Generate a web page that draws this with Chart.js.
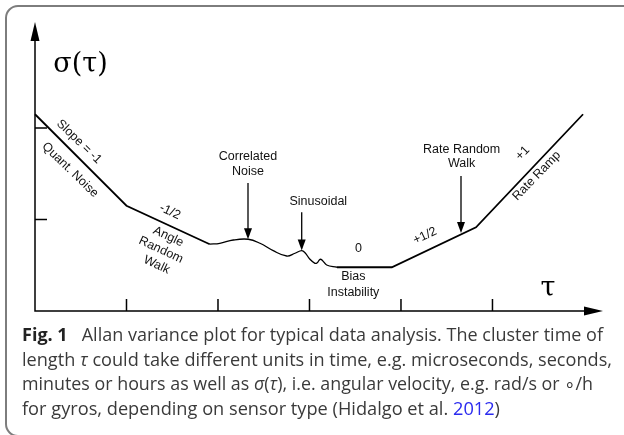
<!DOCTYPE html>
<html lang="en">
<head>
<meta charset="utf-8">
<title>Allan variance plot</title>
<script src="https://cdn.jsdelivr.net/npm/chart.js@4.4.1/dist/chart.umd.min.js"></script>
<style>
  html, body { margin: 0; padding: 0; background: #fff; }
  body { width: 624px; height: 435px; position: relative; overflow: hidden; }
  .marco {
    position: absolute; left: 5px; top: 5px; width: 640px; height: 428px;
    border: 2px solid #7d7d7d; border-radius: 13px;
  }
  #contenedor { position: absolute; left: 0; top: 0; width: 624px; height: 330px; }
  .leyenda {
    position: absolute; left: 22px; top: 322px;
    font-family: "Open Sans", "Noto Sans", sans-serif; font-size: 17.5px; color: #3a3a3a;
  }
  .leyenda .linea { height: 24.5px; line-height: 24.5px; white-space: nowrap; }
  .leyenda .linea span.ajuste { display: inline-block; transform-origin: left center; }
  .leyenda b { color: #222; font-weight: 700; }
  .leyenda .ref { color: #2b2bef; }
</style>
</head>
<body>
<div class="marco"></div>
<div id="contenedor"><canvas id="graficoAllan" width="624" height="330"></canvas></div>
<div class="leyenda">
  <div class="linea"><span class="ajuste" data-ancho="581"><b>Fig. 1</b>&nbsp;&nbsp; Allan variance plot for typical data analysis. The cluster time of</span></div>
  <div class="linea"><span class="ajuste" data-ancho="590">length <i>τ</i> could take different units in time, e.g. microseconds, seconds,</span></div>
  <div class="linea"><span class="ajuste" data-ancho="571">minutes or hours as well as <i>σ</i>(<i>τ</i>), i.e. angular velocity, e.g. rad/s or ∘/h</span></div>
  <div class="linea"><span class="ajuste" data-ancho="478">for gyros, depending on sensor type (Hidalgo et al. <span class="ref">2012</span>)</span></div>
</div>
<script>
// === Curve values (log-log units, 1 unit = one tick) ===
// straight segments: slope -1, -1/2, (gap), 0, +1/2, +1
const tauRecta   = [0, 1.0, 1.91, 2.6, 3.30, 3.90, 4.82, 5.99];
const sigmaRecta = [2.15, 1.15, 0.73, null, 0.478, 0.478, 0.915, 2.15];

// wavy part: correlated noise + sinusoidal
const tauOnda   = [1.91, 2.02, 2.167, 2.331, 2.459, 2.604, 2.751, 2.842, 2.915, 2.951, 3.005, 3.060, 3.085, 3.115, 3.144, 3.188, 3.30];
const sigmaOnda = [0.73, 0.74, 0.776, 0.784, 0.740, 0.659, 0.601, 0.631, 0.659, 0.637, 0.565, 0.521, 0.528, 0.565, 0.550, 0.503, 0.478];

// tick marks on both axes
const ticksTau   = [1, 2, 3, 4, 5];
const ticksSigma = [1, 2];

// axis limits
const tauMax = 6.208;
const sigmaMax = 3.158;

// pointing arrows: x, from, to
const flechas = [
  { x: 2.328, desde: 1.40, hasta: 0.784 },
  { x: 2.915, desde: 1.08, hasta: 0.662 },
  { x: 4.656, desde: 1.475, hasta: 0.852 }
];

// text labels: text, x, y, angle (deg)
const etiquetas = [
  { t: "Slope = -1", x: 0.481, y: 1.850, a: 44 },
  { t: "Quant. Noise", x: 0.383, y: 1.541, a: 44 },
  { t: "-1/2", x: 1.475, y: 1.085, a: 25 },
  { t: "Angle", x: 1.457, y: 0.812, a: 25 },
  { t: "Random", x: 1.377, y: 0.667, a: 25 },
  { t: "Walk", x: 1.330, y: 0.503, a: 25 },
  { t: "Correlated", x: 2.328, y: 1.683, a: 0 },
  { t: "Noise", x: 2.328, y: 1.519, a: 0 },
  { t: "Sinusoidal", x: 3.096, y: 1.195, a: 0 },
  { t: "0", x: 3.536, y: 0.680, a: 0 },
  { t: "Bias", x: 3.479, y: 0.375, a: 0 },
  { t: "Instability", x: 3.479, y: 0.200, a: 0 },
  { t: "+1/2", x: 4.262, y: 0.820, a: -25 },
  { t: "Rate Random", x: 4.663, y: 1.767, a: 0 },
  { t: "Walk", x: 4.663, y: 1.607, a: 0 },
  { t: "+1", x: 5.330, y: 1.723, a: -46 },
  { t: "Rate Ramp", x: 5.483, y: 1.478, a: -46 }
];

const simbolos = [
  { t: "σ(τ)", x: 0.497, y: 2.685 },
  { t: "τ", x: 5.607, y: 0.245 }
];

// === Helper: filled arrow head ===
function punta(ctx, x, y, ang, largo, ancho) {
  ctx.save();
  ctx.translate(x, y);
  ctx.rotate(ang);
  ctx.beginPath();
  ctx.moveTo(0, 0);
  ctx.lineTo(-largo, -ancho / 2);
  ctx.lineTo(-largo, ancho / 2);
  ctx.closePath();
  ctx.fill();
  ctx.restore();
}

// === Plugin: axes, ticks, arrows and labels ===
const decoracion = {
  id: "decoracion",
  afterDatasetsDraw(chart) {
    const ctx = chart.ctx;
    const sx = chart.scales.x;
    const sy = chart.scales.y;
    const x0 = sx.getPixelForValue(0);
    const y0 = sy.getPixelForValue(0);
    const xFin = sx.getPixelForValue(tauMax);
    const yFin = sy.getPixelForValue(sigmaMax);

    ctx.save();
    ctx.strokeStyle = "#000";
    ctx.fillStyle = "#000";
    ctx.lineWidth = 1.5;

    // axes
    ctx.beginPath();
    ctx.moveTo(x0, yFin + 10);
    ctx.lineTo(x0, y0);
    ctx.lineTo(xFin - 10, y0);
    ctx.stroke();
    punta(ctx, x0, yFin, -Math.PI / 2, 19, 9);
    punta(ctx, xFin, y0, 0, 19, 9);

    // ticks
    ctx.beginPath();
    ticksTau.forEach(v => {
      const px = sx.getPixelForValue(v);
      ctx.moveTo(px, y0);
      ctx.lineTo(px, y0 - 12);
    });
    ticksSigma.forEach(v => {
      const py = sy.getPixelForValue(v);
      ctx.moveTo(x0, py);
      ctx.lineTo(x0 + 12, py);
    });
    ctx.stroke();

    // arrows
    ctx.lineWidth = 1.3;
    flechas.forEach(f => {
      const px = sx.getPixelForValue(f.x);
      const pa = sy.getPixelForValue(f.desde);
      const pb = sy.getPixelForValue(f.hasta);
      ctx.beginPath();
      ctx.moveTo(px, pa);
      ctx.lineTo(px, pb - 8);
      ctx.stroke();
      punta(ctx, px, pb, Math.PI / 2, 11, 8);
    });

    // labels
    ctx.textAlign = "center";
    ctx.textBaseline = "middle";
    ctx.font = "12.5px 'Liberation Sans', Arial, sans-serif";
    ctx.fillStyle = "#111";
    etiquetas.forEach(e => {
      ctx.save();
      ctx.translate(sx.getPixelForValue(e.x), sy.getPixelForValue(e.y));
      ctx.rotate(e.a * Math.PI / 180);
      ctx.fillText(e.t, 0, 0);
      ctx.restore();
    });

    ctx.font = "27px 'DejaVu Serif', 'Liberation Serif', serif";
    ctx.fillStyle = "#000";
    simbolos.forEach(s => {
      ctx.fillText(s.t, sx.getPixelForValue(s.x), sy.getPixelForValue(s.y));
    });
    ctx.restore();
  }
};

// === Build the chart ===
function generarGrafico() {
  const ctx = document.getElementById("graficoAllan");
  const puntosRecta = tauRecta.map((t, i) => ({ x: t, y: sigmaRecta[i] }));
  const puntosOnda = tauOnda.map((t, i) => ({ x: t, y: sigmaOnda[i] }));

  new Chart(ctx, {
    type: "line",
    data: {
      datasets: [
        {
          data: puntosRecta,
          borderColor: "#000",
          borderWidth: 1.8,
          pointRadius: 0,
          tension: 0,
          spanGaps: false,
          clip: false
        },
        {
          data: puntosOnda,
          borderColor: "#000",
          borderWidth: 1.3,
          pointRadius: 0,
          tension: 0.4,
          clip: false
        }
      ]
    },
    options: {
      responsive: false,
      animation: false,
      layout: { padding: { left: 35, top: 22, right: 21, bottom: 19 } },
      plugins: { legend: { display: false }, tooltip: { enabled: false } },
      scales: {
        x: { type: "linear", min: 0, max: tauMax, display: false },
        y: { type: "linear", min: 0, max: sigmaMax, display: false }
      }
    },
    plugins: [decoracion]
  });
}

// === Caption lines: squeeze each one to the reference width ===
function ajustarLeyenda() {
  document.querySelectorAll(".leyenda .ajuste").forEach(s => {
    const ancho = s.getBoundingClientRect().width;
    const meta = parseFloat(s.dataset.ancho);
    s.style.transform = `scaleX(${meta / ancho})`;
  });
}

document.addEventListener("DOMContentLoaded", () => {
  generarGrafico();
  if (document.fonts && document.fonts.ready) {
    document.fonts.ready.then(ajustarLeyenda);
  } else {
    ajustarLeyenda();
  }
});
</script>
</body>
</html>
